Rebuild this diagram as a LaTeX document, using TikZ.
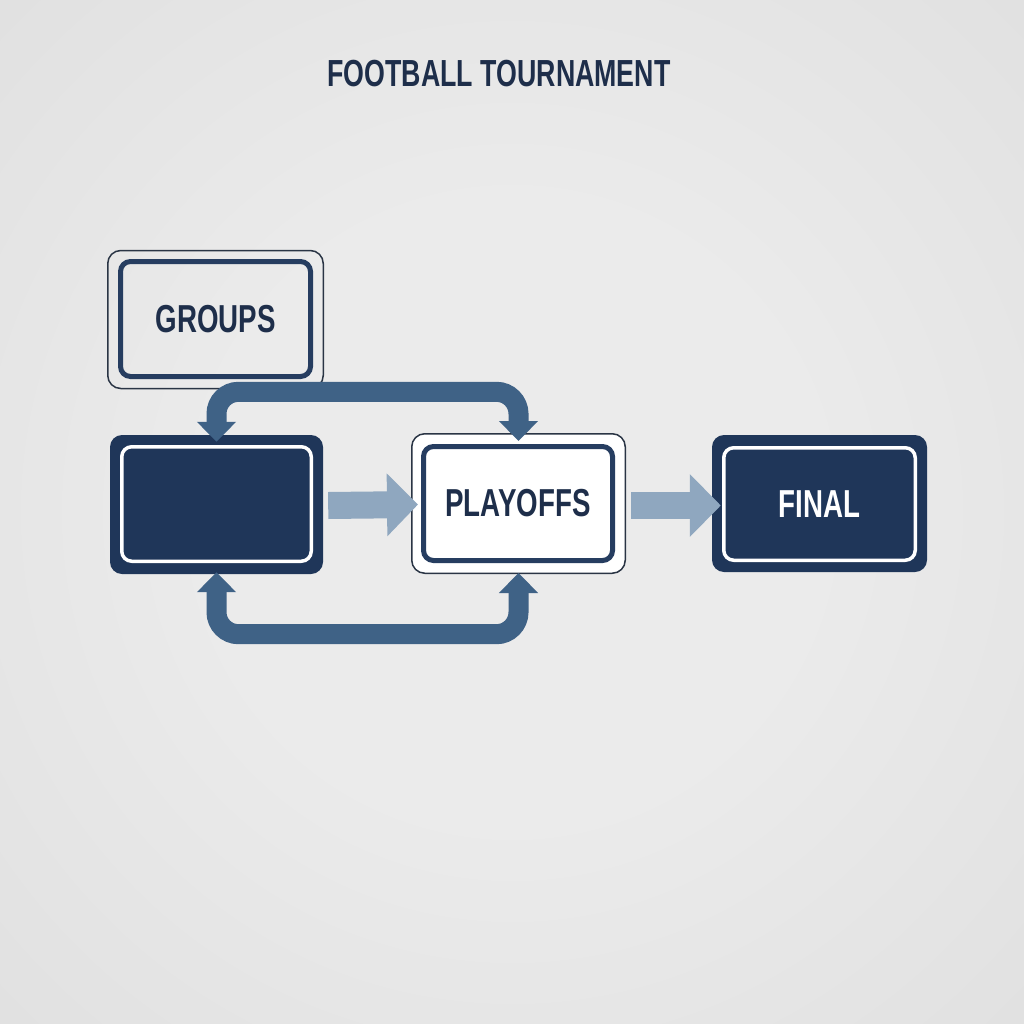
\documentclass[tikz,border=0pt]{standalone}
\usepackage{fontspec}
\newfontfamily\condfont{Liberation Sans}[FakeStretch=0.71]
\usetikzlibrary{arrows.meta,calc}
\definecolor{navy}{HTML}{1F3659}
\definecolor{navyline}{HTML}{263D60}
\definecolor{titlecol}{HTML}{1E2E4A}
\definecolor{arccol}{HTML}{3F6286}
\definecolor{lightarrow}{HTML}{8FA7BF}
\definecolor{bgin}{HTML}{EBEBEB}
\definecolor{bgout}{HTML}{CFCFCF}
\definecolor{thinline}{HTML}{2A3545}
\pgfdeclareradialshading{bgshade}{\pgfpoint{0bp}{0bp}}{color(0bp)=(bgin); color(15bp)=(bgin); color(71bp)=(bgout)}
\tikzset{
  lbl/.style={font=\condfont\bfseries\fontsize{39}{40}\selectfont},
  outerthin/.style={draw=thinline, line width=1.5pt, rounded corners=13pt, inner sep=0pt},
  innerthick/.style={draw=navyline, line width=5pt, rounded corners=10pt, inner sep=0pt, lbl, text=titlecol},
  outerdark/.style={fill=navy, rounded corners=12pt, inner sep=0pt},
  innerwhite/.style={draw=white, line width=3.5pt, fill=navy, rounded corners=10pt, inner sep=0pt, lbl, text=white},
  arcline/.style={draw=arccol, line width=20pt, rounded corners=22pt,
    {Triangle[length=20pt,width=38pt]}-{Triangle[length=20pt,width=38pt]}},
  blockarrow/.style={draw=lightarrow, line width=27pt, -{Triangle[length=31pt,width=61pt]}}
}
\begin{document}
\begin{tikzpicture}[x=1pt,y=-1pt]
\useasboundingbox (0,0) rectangle (1024,1024);
\shade[shading=bgshade] (0,0) rectangle (1024,1024);

\node[font=\condfont\bfseries\fontsize{37.7}{40}\selectfont, text=titlecol, inner sep=0pt] (title) at (499,74) {FOOTBALL TOURNAMENT};

% GROUPS
\node[outerthin, minimum width=215.5pt, minimum height=138pt] (go) at (215.5,319.5) {};
\node[innerthick, minimum width=190pt, minimum height=115pt] (gi) at (215.5,319) {GROUPS};

% blank left box
\node[outerdark, minimum width=213pt, minimum height=139pt] (lb) at (216.5,504.5) {};
\node[innerwhite, minimum width=189.5pt, minimum height=114.5pt] (lbi) at (216.5,504) {};

% PLAYOFFS
\node[outerthin, fill=white, minimum width=213.5pt, minimum height=139.5pt] (po) at (518.5,503.5) {};
\node[innerthick, fill=white, minimum width=189pt, minimum height=114pt] (poi) at (518,503.5) {PLAYOFFS};

% FINAL
\node[outerdark, minimum width=215pt, minimum height=137pt] (fo) at (819.5,503.5) {};
\node[innerwhite, minimum width=191.5pt, minimum height=112.5pt] (fi) at (819.5,504) {FINAL};

% connectors
\draw[arcline] ($(lb.north)+(0,7)$) -- ++(0,-50) -| ($(po.north)+(0,8)$);
\draw[arcline] ($(lb.south)+(0,-2)$) -- ++(0,62) -| ($(po.south)+(0,-1)$);
\draw[blockarrow] ($(lb.east)+(5,1)$) -- ($(po.west)+(7,1)$);
\draw[blockarrow] ($(po.east)+(5,2)$) -- ($(fo.west)+(9,2)$);
\end{tikzpicture}
\end{document}
